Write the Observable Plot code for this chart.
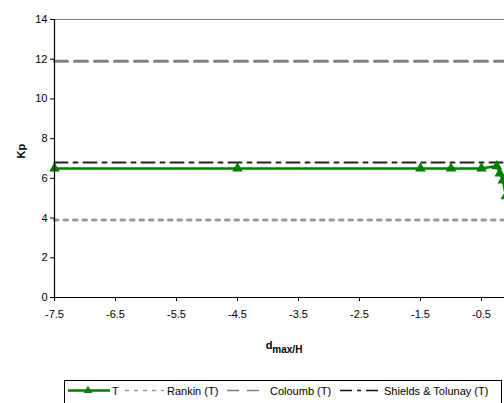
<!DOCTYPE html>
<html>
<head>
<meta charset="utf-8">
<script src="https://cdn.jsdelivr.net/npm/d3@7"></script>
<script src="https://cdn.jsdelivr.net/npm/@observablehq/plot@0.6"></script>
<style>
  html, body { margin: 0; padding: 0; background: #fff; overflow: hidden; width: 504px; height: 403px; }
  #wrap { position: relative; width: 504px; height: 403px; overflow: hidden; font-family: "Liberation Sans", Arial, sans-serif; }
  #chart { position: absolute; left: 0; top: 0; width: 530px; }
  #chart svg { max-width: none !important; width: 530px; height: 375px; }
  #legend { position: absolute; left: 64px; top: 380px; }
</style>
</head>
<body>
<div id="wrap">
  <div id="chart"></div>
  <div id="legend"></div>
</div>
<script>
// ---- data ----
const tX = [-7.5, -4.5, -1.5, -1.0, -0.5, -0.25, -0.2, -0.15, -0.1];
const tY = [6.5, 6.5, 6.5, 6.5, 6.5, 6.62, 6.25, 5.9, 5.1];
const rankinY = 3.9;
const coulombY = 11.9;
const shieldsY = 6.8;
const xRange = [-7.5, 0];
const xTicks = [-7.5, -6.5, -5.5, -4.5, -3.5, -2.5, -1.5, -0.5];
const yTicks = [0, 2, 4, 6, 8, 10, 12, 14];
const yLabel = "Kp";
const xLabelMain = "d";
const xLabelSub = "max/H";
const seriesNames = ["T", "Rankin (T)", "Coloumb (T)", "Shields & Tolunay (T)"];

const tData = tX.map((x, i) => ({x, y: tY[i]}));
const flat = v => xRange.map(x => ({x, y: v}));

const FONT = "Liberation Sans, Arial, sans-serif";
const green = "#008000";

const chart = Plot.plot({
  width: 530,
  height: 375,
  marginLeft: 54,
  marginRight: 18.5,
  marginTop: 19,
  marginBottom: 78,
  style: {fontFamily: FONT, fontSize: "11px", color: "#000", background: "#fff", maxWidth: "none"},
  x: {domain: xRange},
  y: {domain: [0, 14]},
  marks: [
    Plot.ruleY([14], {stroke: "#808080", strokeWidth: 1}),
    Plot.line(flat(rankinY), {x: "x", y: "y", stroke: "#999999", strokeWidth: 3, strokeDasharray: "3.5,6"}),
    Plot.line(flat(coulombY), {x: "x", y: "y", stroke: "#808080", strokeWidth: 3, strokeDasharray: "13,7"}),
    Plot.line(flat(shieldsY), {x: "x", y: "y", stroke: "#222", strokeWidth: 2, strokeDasharray: "13,6,4,6"}),
    Plot.line(tData, {x: "x", y: "y", stroke: green, strokeWidth: 2.5}),
    Plot.dot(tData, {x: "x", y: "y", symbol: "triangle", r: 3, fill: green, stroke: green}),
    Plot.axisX({ticks: xTicks, tickSize: 4, tickPadding: 9, tickFormat: d => String(d), label: null, fontSize: 11}),
    Plot.axisY({ticks: yTicks, tickSize: 4, tickPadding: 3, label: null, fontSize: 11}),
    Plot.ruleX([xRange[0]], {stroke: "#000", strokeWidth: 1.2}),
    Plot.ruleY([0], {stroke: "#000", strokeWidth: 1.2}),
    Plot.text([yLabel], {frameAnchor: "left", dx: -33, rotate: -90, fontWeight: "bold", fontSize: 11, fill: "#000"})
  ]
});
document.getElementById("chart").appendChild(chart);

// x-axis label with subscript
const svg = d3.select(chart);
const xl = svg.append("text")
  .attr("x", 284).attr("y", 349)
  .attr("text-anchor", "middle")
  .attr("font-family", FONT)
  .attr("font-weight", "bold")
  .attr("fill", "#000");
xl.append("tspan").attr("font-size", 11).text(xLabelMain);
xl.append("tspan").attr("font-size", 10).attr("dy", 3.5).text(xLabelSub);

// legend (below the plot)
const lg = d3.select("#legend").append("svg")
  .attr("width", 440).attr("height", 30)
  .style("font-family", FONT).style("font-size", "11px");
lg.append("rect").attr("x", 0.5).attr("y", 0.5).attr("width", 437).attr("height", 28)
  .attr("fill", "#fff").attr("stroke", "#000").attr("stroke-width", 1);
const ly = 10.5, ty = 14.5;
// T
lg.append("line").attr("x1", 4).attr("x2", 46).attr("y1", ly).attr("y2", ly).attr("stroke", green).attr("stroke-width", 2.5);
lg.append("path").attr("d", d3.symbol(d3.symbolTriangle, 30)()).attr("transform", `translate(24,${ly})`).attr("fill", green);
lg.append("text").attr("x", 48).attr("y", ty).text(seriesNames[0]);
// Rankin
lg.append("line").attr("x1", 61).attr("x2", 100).attr("y1", ly).attr("y2", ly).attr("stroke", "#999").attr("stroke-width", 1.5).attr("stroke-dasharray", "4,5");
lg.append("text").attr("x", 103).attr("y", ty).text(seriesNames[1]);
// Coulomb
lg.append("line").attr("x1", 163).attr("x2", 195).attr("y1", ly).attr("y2", ly).attr("stroke", "#808080").attr("stroke-width", 1.5).attr("stroke-dasharray", "12,8");
lg.append("text").attr("x", 206).attr("y", ty).text(seriesNames[2]);
// Shields
lg.append("line").attr("x1", 276).attr("x2", 318).attr("y1", ly).attr("y2", ly).attr("stroke", "#111").attr("stroke-width", 1.5).attr("stroke-dasharray", "12,5,4,5");
lg.append("text").attr("x", 320).attr("y", ty).text(seriesNames[3]);
</script>
</body>
</html>
